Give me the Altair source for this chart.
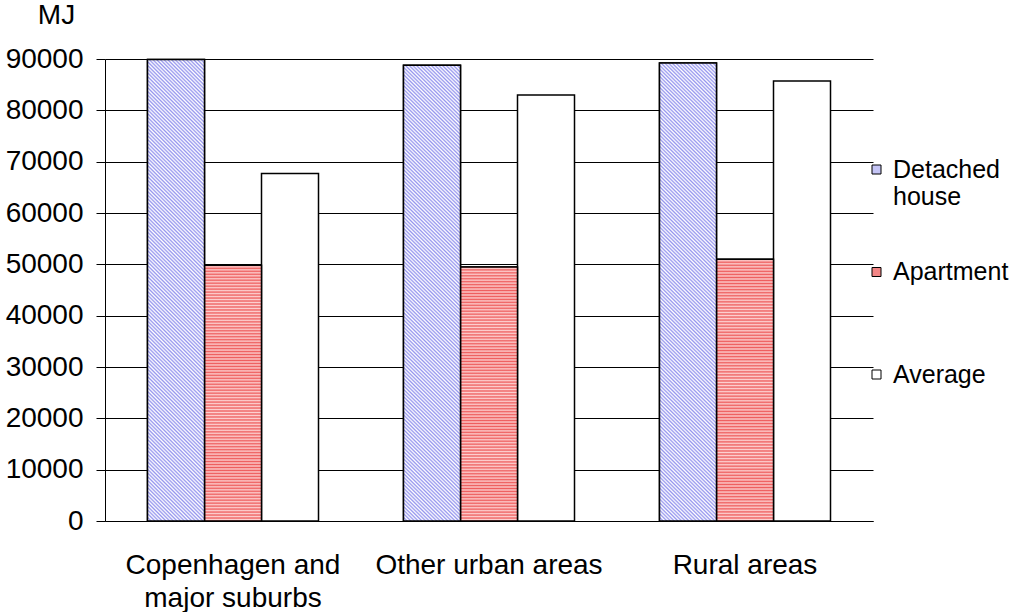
import altair as alt
import pandas as pd

# ---- data ----
categories = ["Copenhagen and major suburbs", "Other urban areas", "Rural areas"]
series = ["Detached house", "Apartment", "Average"]
detached = [89900, 88800, 89200]
apartment = [49800, 49500, 51000]
average = [67700, 83000, 85700]
y_ticks = [0, 10000, 20000, 30000, 40000, 50000, 60000, 70000, 80000, 90000]

rows = []
for s, vals in zip(series, [detached, apartment, average]):
    for c, v in zip(categories, vals):
        rows.append({"area": c, "type": s, "mj": v})
df = pd.DataFrame(rows)

FONT = "Liberation Sans"


def stripes(c1, c2, n, **coords):
    # soft repeating stripe texture (triangle wave between two colours)
    stops = []
    for i in range(n):
        stops += [
            alt.GradientStop(offset=i / n, color=c1),
            alt.GradientStop(offset=(i + 0.5) / n, color=c2),
        ]
    stops.append(alt.GradientStop(offset=1, color=c1))
    return alt.LinearGradient(gradient="linear", stops=stops, **coords)


red_fill = stripes("#ee5e5e", "#fdd0d0", 86, x1=0, y1=0, x2=0, y2=1)
blue_fill = stripes("#9595ee", "#ffffff", 140, x1=0, y1=1, x2=0.137, y2=-0.107)

x_enc = alt.X(
    "area:N",
    sort=categories,
    scale=alt.Scale(paddingInner=0.332, paddingOuter=0.166),
    axis=alt.Axis(
        title=None,
        labelAngle=0,
        ticks=False,
        domain=True,
        domainColor="black",
        domainWidth=1,
        labelFont=FONT,
        labelFontSize=28,
        labelColor="black",
        labelPadding=30,
        labelBaseline="top",
        labelLineHeight=33,
        labelLimit=0,
        labelExpr="datum.label == 'Copenhagen and major suburbs' ? ['Copenhagen and', 'major suburbs'] : datum.label",
    ),
)
xo_enc = alt.XOffset(
    "type:N", sort=series, scale=alt.Scale(domain=series, paddingInner=0, paddingOuter=0)
)
y_enc = alt.Y(
    "mj:Q",
    scale=alt.Scale(domain=[0, 90000], nice=False),
    axis=alt.Axis(
        values=y_ticks,
        format="d",
        title="MJ",
        titleAngle=0,
        titleX=-49,
        titleY=-44,
        titleAlign="center",
        titleBaseline="middle",
        titleFont=FONT,
        titleFontSize=28,
        titleFontWeight="normal",
        titleColor="black",
        grid=True,
        gridColor="black",
        gridWidth=1,
        gridOpacity=1,
        tickSize=9,
        tickColor="black",
        tickWidth=1,
        domainColor="black",
        domainWidth=1,
        labelFont=FONT,
        labelFontSize=28,
        labelColor="black",
        labelPadding=13,
    ),
)

base = alt.Chart(df).mark_bar(stroke="black", strokeWidth=1.5).encode(
    x=x_enc,
    xOffset=xo_enc,
    y=y_enc,
    color=alt.Color(
        "type:N",
        sort=series,
        scale=alt.Scale(domain=series, range=["#c4c4f5", "#f38686", "#ffffff"]),
        legend=alt.Legend(
            title=None,
            orient="none",
            legendX=759,
            legendY=98,
            padding=0,
            symbolType="square",
            symbolSize=81,
            symbolStrokeColor="black",
            symbolStrokeWidth=1,
            symbolOpacity=1,
            labelFont=FONT,
            labelFontSize=25,
            labelColor="black",
            labelOffset=4,
            labelLimit=0,
            rowPadding=49.5,
            labelExpr="datum.label == 'Detached house' ? ['Detached', 'house'] : [datum.label, '']",
        ),
    ),
)

apt = (
    alt.Chart(df)
    .transform_filter(alt.datum.type == "Apartment")
    .mark_bar(fill=red_fill, stroke="black", strokeWidth=1.5)
    .encode(x=x_enc, xOffset=xo_enc, y=y_enc)
)
det = (
    alt.Chart(df)
    .transform_filter(alt.datum.type == "Detached house")
    .mark_bar(fill=blue_fill, stroke="black", strokeWidth=1.5)
    .encode(x=x_enc, xOffset=xo_enc, y=y_enc)
)

chart = (
    alt.layer(base, apt, det)
    .properties(
        width=768,
        height=462,
        autosize=alt.AutoSizeParams(type="none"),
        padding={"left": 105, "top": 59, "right": 141, "bottom": 91},
        background="white",
    )
    .configure_view(stroke=None)
)

chart.save("out.html", embed_options={"renderer": "svg", "actions": False})
